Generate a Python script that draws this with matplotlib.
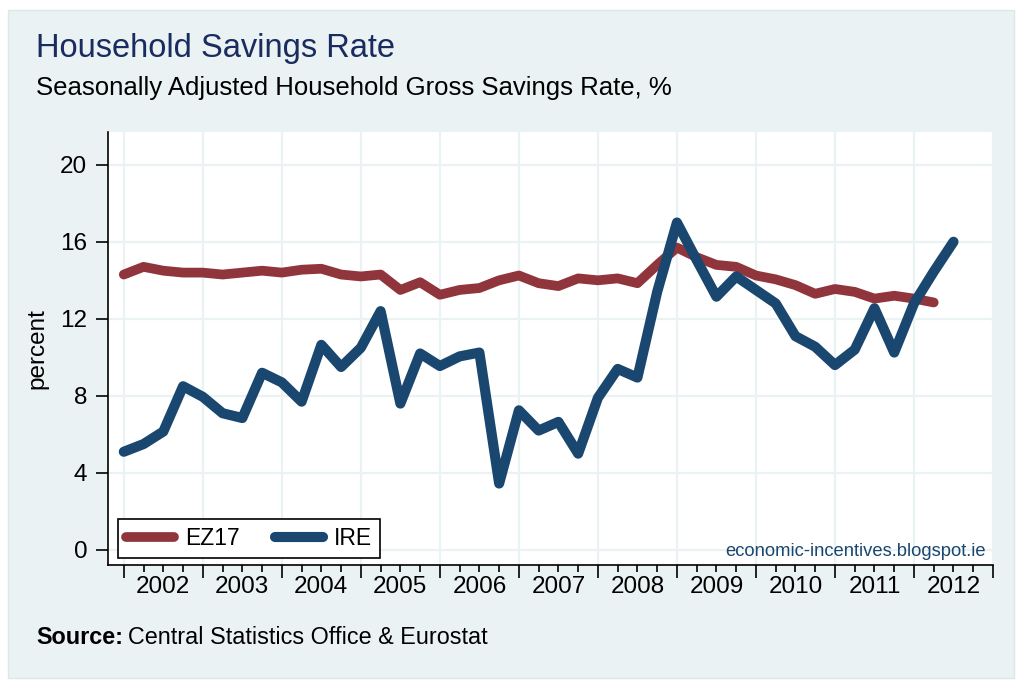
import matplotlib.pyplot as plt
from matplotlib.patches import Rectangle
import numpy as np

plt.rcParams['font.family'] = ['Liberation Sans', 'DejaVu Sans']

# quarterly data, first point 2002Q1
ez17 = [14.3, 14.7, 14.5, 14.4, 14.4, 14.3, 14.4, 14.5, 14.4, 14.55, 14.6, 14.3,
        14.2, 14.3, 13.5, 13.9, 13.25, 13.5, 13.6, 14.0, 14.25, 13.85, 13.7, 14.1,
        14.0, 14.1, 13.85, 14.8, 15.7, 15.2, 14.8, 14.7, 14.25, 14.05, 13.75, 13.3,
        13.55, 13.4, 13.05, 13.2, 13.05, 12.85]
ire = [5.1, 5.5, 6.15, 8.5, 7.95, 7.1, 6.85, 9.2, 8.7, 7.7, 10.65, 9.5,
       10.5, 12.4, 7.6, 10.2, 9.55, 10.05, 10.25, 3.45, 7.25, 6.2, 6.65, 5.0,
       7.9, 9.4, 8.95, 13.4, 17.0, 15.05, 13.15, 14.2, 13.5, 12.8, 11.1, 10.55,
       9.6, 10.4, 12.55, 10.25, 12.8, 14.45, 16.0]
years = ['2002', '2003', '2004', '2005', '2006', '2007', '2008', '2009',
         '2010', '2011', '2012']

bg = '#eaf2f3'
c_ez = '#90353b'
c_ire = '#1a476f'
W, H = 1024, 687

fig = plt.figure(figsize=(W / 100, H / 100), dpi=100)
fig.patch.set_facecolor('white')
fig.patches.append(Rectangle((8 / W, 1 - 678 / H), 1006 / W, 668 / H,
                             transform=fig.transFigure, facecolor=bg,
                             edgecolor='#dde8ea', lw=1, zorder=-10))

ax = fig.add_axes([108 / W, 1 - 565 / H, 885 / W, 433 / H])
ax.set_facecolor('white')

ax.plot(np.arange(len(ez17)), ez17, color=c_ez, lw=7, solid_capstyle='round',
        solid_joinstyle='round', label='EZ17', zorder=3)
ax.plot(np.arange(len(ire)), ire, color=c_ire, lw=7.3, solid_capstyle='round',
        solid_joinstyle='round', label='IRE', zorder=3)

ax.set_xlim(-0.8, 43.9)
ax.set_ylim(-0.78, 21.7)

# year boundaries as major ticks, quarters as minor ticks, labels mid-year
bounds = np.arange(0, 4 * len(years) + 1, 4)
ax.set_xticks(bounds)
ax.set_xticklabels([])
minor = [n for n in range(4 * len(years)) if n % 4 != 0]
ax.set_xticks(minor, minor=True)
ax.set_xticklabels([years[n // 4] if n % 4 == 2 else '' for n in minor],
                   minor=True, fontsize=17.5)
ax.tick_params(axis='x', which='major', length=9, width=1.2, color='black')
ax.tick_params(axis='x', which='minor', length=5, width=1.2, color='black', pad=3)

ax.set_yticks(np.arange(0, 21, 4))
ax.tick_params(axis='y', length=9, width=1.2, labelsize=17.5, pad=6)
ax.set_ylabel('percent', fontsize=17.5, labelpad=8)

ax.grid(True, which='major', color=bg, lw=1.6, zorder=0)
ax.set_axisbelow(True)
for s in ['top', 'right']:
    ax.spines[s].set_visible(False)
for s in ['left', 'bottom']:
    ax.spines[s].set_linewidth(1.2)

leg = ax.legend(loc='lower left', bbox_to_anchor=(0.0113, 0.016), borderaxespad=0,
                ncol=2, fontsize=16.5, handlelength=2.1, handletextpad=0.5,
                columnspacing=1.5, fancybox=False, framealpha=1, borderpad=0.35)
leg.get_frame().set_edgecolor('black')
leg.get_frame().set_linewidth(1.2)

ax.text(0.992, 0.012, 'economic-incentives.blogspot.ie', transform=ax.transAxes,
        ha='right', va='bottom', fontsize=13.2, color=c_ire)

fig.text(36 / W, 1 - 48 / H, 'Household Savings Rate', fontsize=23.5,
         color='#1a2b5f', va='center', ha='left')
fig.text(36 / W, 1 - 88 / H, 'Seasonally Adjusted Household Gross Savings Rate, %',
         fontsize=18.5, color='black', va='center', ha='left')
src = fig.text(36 / W, 1 - 638 / H, 'Source:', fontsize=16.8, fontweight='bold',
               va='center', ha='left')
fig.canvas.draw()
bb = src.get_window_extent()
fig.text((bb.x1 + 5) / W, 1 - 638 / H, 'Central Statistics Office & Eurostat',
         fontsize=16.8, va='center', ha='left')

fig.savefig('out.png', dpi=100, facecolor=fig.get_facecolor())
